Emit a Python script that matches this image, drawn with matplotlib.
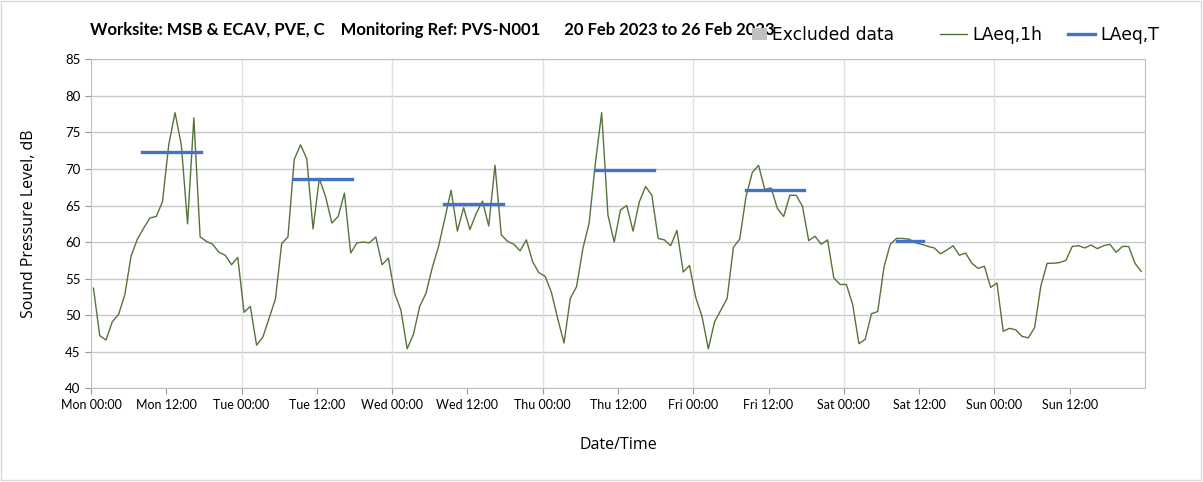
import matplotlib.pyplot as plt
from matplotlib.lines import Line2D
from matplotlib.patches import Patch, Rectangle
import numpy as np

# hourly LAeq,1h readings, Mon 00:00 -> Sun 23:00 (dB)
mon = [53.7, 47.2, 46.6, 49.1, 50.1, 52.8, 58.1, 60.4, 61.9, 63.3, 63.5, 65.5,
       73.3, 77.7, 73.3, 62.5, 77.0, 60.7, 60.1, 59.7, 58.6, 58.2, 56.9, 57.9]
tue = [50.4, 51.2, 45.9, 47.0, 49.6, 52.2, 59.8, 60.7, 71.3, 73.3, 71.4, 61.8,
       68.7, 66.2, 62.6, 63.5, 66.7, 58.5, 59.9, 60.0, 59.9, 60.7, 56.9, 57.8]
wed = [53.0, 50.7, 45.4, 47.4, 51.2, 53.0, 56.5, 59.4, 63.2, 67.1, 61.5, 64.7,
       61.7, 63.9, 65.6, 62.2, 70.5, 61.0, 60.1, 59.7, 58.8, 60.3, 57.3, 55.8]
thu = [55.3, 53.1, 49.5, 46.2, 52.3, 53.9, 59.1, 62.6, 70.8, 77.7, 63.7, 60.0,
       64.4, 65.0, 61.5, 65.5, 67.6, 66.4, 60.5, 60.3, 59.5, 61.6, 55.9, 56.8]
fri = [52.4, 49.8, 45.4, 49.1, 50.7, 52.3, 59.3, 60.4, 66.2, 69.5, 70.5, 67.2,
       67.4, 64.6, 63.5, 66.4, 66.4, 64.9, 60.2, 60.8, 59.7, 60.3, 55.1, 54.2]
sat = [54.2, 51.5, 46.1, 46.7, 50.2, 50.5, 56.6, 59.7, 60.5, 60.5, 60.4, 59.9,
       59.7, 59.4, 59.2, 58.4, 58.9, 59.5, 58.2, 58.5, 57.1, 56.4, 56.7, 53.8]
sun = [54.4, 47.8, 48.2, 48.0, 47.1, 46.9, 48.3, 54.0, 57.1, 57.1, 57.2, 57.5,
       59.4, 59.5, 59.2, 59.6, 59.1, 59.5, 59.7, 58.6, 59.4, 59.4, 57.1, 56.0]
laeq_1h = mon + tue + wed + thu + fri + sat + sun

# LAeq,T per working period (day index, start hour, end hour, level)
period_day = [0, 1, 2, 3, 4, 5]
period_start = [8.2, 8.2, 8.3, 8.4, 8.4, 8.5]
period_end = [17.5, 17.6, 17.7, 17.7, 17.7, 12.6]
laeq_t = [72.3, 68.6, 65.2, 69.85, 67.1, 60.2]

tick_labels = ['Mon 00:00', 'Mon 12:00', 'Tue 00:00', 'Tue 12:00', 'Wed 00:00',
               'Wed 12:00', 'Thu 00:00', 'Thu 12:00', 'Fri 00:00', 'Fri 12:00',
               'Sat 00:00', 'Sat 12:00', 'Sun 00:00', 'Sun 12:00']

hours = np.arange(len(laeq_1h)) + 0.4

green = '#56733a'
blue = '#4472c4'
grid_c = '#c8c8c8'

fig = plt.figure(figsize=(12.03, 4.82), dpi=100)
ax = fig.add_axes([0.0756, 0.1944, 0.9518 - 0.0756, 0.877 - 0.1944])

ax.plot(hours, laeq_1h, color=green, lw=1.0, zorder=3)
for d, s, e, v in zip(period_day, period_start, period_end, laeq_t):
    ax.plot([d * 24 + s, d * 24 + e], [v, v], color=blue, lw=2.4, zorder=4)

ax.set_xlim(0, 168)
ax.set_ylim(40, 85)
ax.set_yticks(range(40, 86, 5))
ax.set_xticks(np.arange(0, 168, 12))
ax.set_xticklabels(tick_labels, family='Lato', fontsize=9)
for lab in ax.get_yticklabels():
    lab.set_family('Lato')
    lab.set_fontsize(9.5)

ax.yaxis.grid(True, color=grid_c, lw=1.0)
for d in range(1, 7):
    ax.axvline(d * 24, color='#e0e0e0', lw=1.0, zorder=1)
ax.set_axisbelow(True)
for sp in ax.spines.values():
    sp.set_color('#bfbfbf')
ax.tick_params(axis='both', colors='#999999', length=4, labelcolor='black')

ax.set_ylabel('Sound Pressure Level, dB', family='Open Sans', fontsize=11.5, labelpad=20)
ax.set_xlabel('Date/Time', family='Open Sans', fontsize=11.5, labelpad=19)

fig.text(0.075, 0.937, 'Worksite: MSB & ECAV, PVE, C    Monitoring Ref: PVS-N001      '
         '20 Feb 2023 to 26 Feb 2023', family='Lato', fontweight='bold', fontsize=12,
         va='center')

# legend entries placed one by one along the title line
entries = [(Patch(facecolor='#c0c0c0', edgecolor='none'), 'Excluded data', 752, 0.9),
           (Line2D([], [], color=green, lw=1.0), 'LAeq,1h', 940, 1.6),
           (Line2D([], [], color=blue, lw=2.4), 'LAeq,T', 1068, 1.6)]
for h, lab, px, hl in entries:
    fig.legend([h], [lab], frameon=False, loc='center left',
               bbox_to_anchor=(px / 1203, 0.928), borderpad=0, borderaxespad=0,
               prop={'family': 'DejaVu Sans', 'size': 12.3},
               handlelength=hl, handletextpad=0.3)

fig.add_artist(Rectangle((0.001, 0.005), 0.997, 0.993, transform=fig.transFigure,
                         fill=False, edgecolor='#d9d9d9', lw=1.0))

fig.savefig('out.png', dpi=100)
